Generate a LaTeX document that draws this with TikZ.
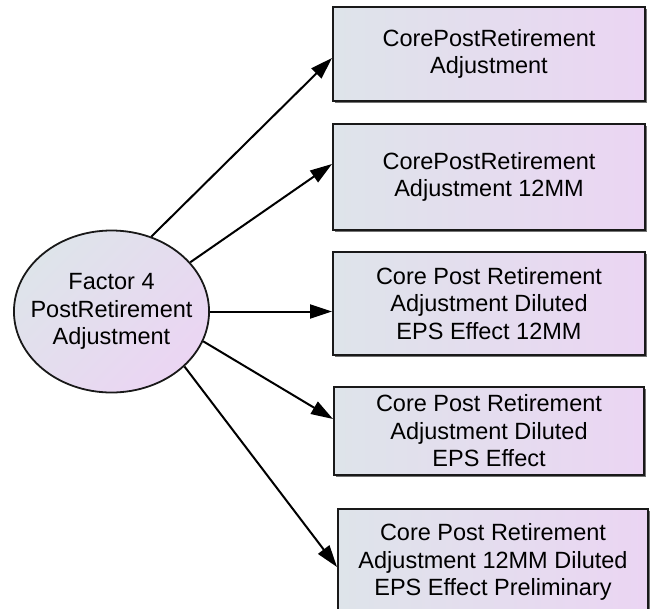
\documentclass[tikz,border=0pt]{standalone}
\usepackage{fontspec}
\setmainfont{Liberation Sans}
\usepackage{xcolor}
\usetikzlibrary{arrows.meta,positioning,shapes.geometric,shadows}

\definecolor{shadeL}{RGB}{222,228,234}
\definecolor{shadeR}{RGB}{235,213,243}

\begin{document}
\begin{tikzpicture}[
  x=1pt, y=-1pt,
  font=\fontsize{23.5}{27.5}\selectfont,
  measure/.style={draw=black!90, line width=2pt, align=center, inner sep=0pt,
                  minimum width=312pt, left color=shadeL, right color=shadeR,
                  drop shadow={shadow xshift=2pt, shadow yshift=-2pt, fill=black!55, opacity=1}},
  factor/.style={ellipse, draw=black!90, line width=1.8pt, align=center,
                 inner xsep=-12pt, inner ysep=0pt,
                 minimum width=193pt, minimum height=162pt,
                 left color=shadeL, right color=shadeR, shading angle=45},
  link/.style={-{Triangle[length=22pt,width=14pt]}, line width=2pt, draw=black}
]
\useasboundingbox (0,0) rectangle (650,608);

% ===== factor =====
\node[factor] (f4) at (111.5,311.5) {Factor 4\\PostRetirement\\Adjustment};

% ===== measures =====
\node[measure, minimum height=94pt] (m1) at (489,54) {CorePostRetirement\\Adjustment};
\node[measure, minimum height=106pt, below=21pt of m1] (m2) {CorePostRetirement\\Adjustment 12MM};
\node[measure, minimum height=103pt, below=20pt of m2] (m3) {Core Post Retirement\\Adjustment Diluted\\EPS Effect 12MM};
\node[measure, minimum height=88pt, minimum width=310pt, below=30pt of m3] (m4) {Core Post Retirement\\Adjustment Diluted\\EPS Effect};
\node[measure, minimum height=106pt, minimum width=310pt, below=32pt of m4, xshift=4pt] (m5) {Core Post Retirement\\Adjustment 12MM Diluted\\EPS Effect Preliminary};

% arrows
\draw[link] (f4.62)  -- ([yshift=-4pt]m1.west);
\draw[link] (f4.32)  -- ([yshift=13pt]m2.west);
\draw[link] (f4.0)   -- ([yshift=-8pt]m3.west);
\draw[link] (f4.-18) -- ([yshift=12pt]m4.west);
\draw[link] (f4.-37) -- ([yshift=-5pt]m5.west);

\end{tikzpicture}
\end{document}
